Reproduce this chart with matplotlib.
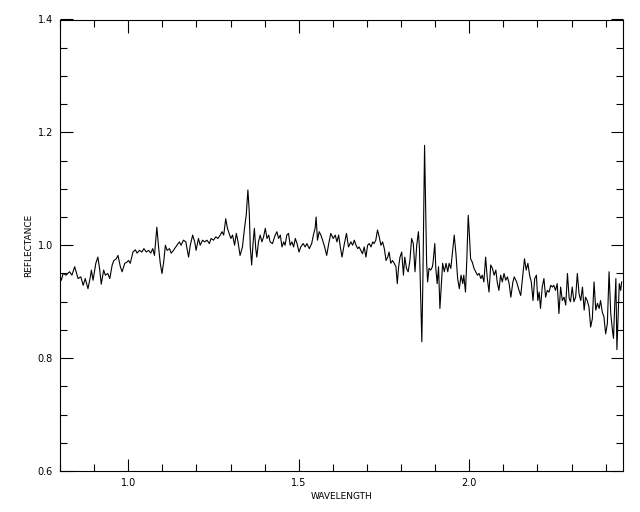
import matplotlib
matplotlib.use("Agg")
import matplotlib.pyplot as plt
from matplotlib.ticker import MultipleLocator, FormatStrFormatter

wavelength = [
    0.800, 0.804, 0.809, 0.818, 0.828, 0.835, 0.843, 0.853, 0.861, 0.868,
    0.874, 0.882, 0.889, 0.892, 0.897, 0.905, 0.911, 0.916, 0.921, 0.928,
    0.933, 0.940, 0.946, 0.953, 0.958, 0.965, 0.970, 0.977, 0.982, 0.990,
    0.996, 1.001, 1.006, 1.014, 1.021, 1.026, 1.033, 1.040, 1.046, 1.053,
    1.060, 1.066, 1.072, 1.077, 1.084, 1.089, 1.094, 1.099, 1.104, 1.109,
    1.114, 1.121, 1.126, 1.133, 1.136, 1.143, 1.150, 1.155, 1.162, 1.169,
    1.177, 1.182, 1.189, 1.195, 1.199, 1.206, 1.211, 1.218, 1.224, 1.231,
    1.238, 1.243, 1.250, 1.257, 1.263, 1.270, 1.275, 1.280, 1.286, 1.291,
    1.296, 1.301, 1.306, 1.312, 1.317, 1.322, 1.328, 1.335, 1.341, 1.346,
    1.351, 1.355, 1.358, 1.362, 1.366, 1.370, 1.374, 1.377, 1.382, 1.387,
    1.392, 1.397, 1.402, 1.407, 1.412, 1.416, 1.423, 1.431, 1.436, 1.441,
    1.446, 1.451, 1.456, 1.460, 1.465, 1.470, 1.475, 1.480, 1.485, 1.490,
    1.495, 1.501, 1.506, 1.513, 1.519, 1.524, 1.531, 1.538, 1.543, 1.548,
    1.551, 1.555, 1.560, 1.565, 1.570, 1.576, 1.582, 1.588, 1.594, 1.601,
    1.607, 1.612, 1.617, 1.622, 1.627, 1.633, 1.640, 1.646, 1.653, 1.658,
    1.663, 1.668, 1.673, 1.677, 1.682, 1.687, 1.692, 1.697, 1.702, 1.707,
    1.712, 1.717, 1.721, 1.726, 1.731, 1.736, 1.741, 1.746, 1.751, 1.756,
    1.761, 1.765, 1.770, 1.775, 1.780, 1.785, 1.789, 1.793, 1.797, 1.802,
    1.807, 1.811, 1.816, 1.821, 1.826, 1.831, 1.836, 1.841, 1.846, 1.851,
    1.854, 1.858, 1.861, 1.864, 1.867, 1.869, 1.872, 1.875, 1.878, 1.882,
    1.887, 1.892, 1.894, 1.899, 1.902, 1.906, 1.910, 1.914, 1.918, 1.922,
    1.927, 1.932, 1.937, 1.941, 1.946, 1.951, 1.956, 1.961, 1.966, 1.971,
    1.976, 1.981, 1.984, 1.989, 1.993, 1.997, 2.000, 2.004, 2.009, 2.014,
    2.019, 2.024, 2.029, 2.034, 2.038, 2.043, 2.048, 2.053, 2.058, 2.063,
    2.068, 2.073, 2.078, 2.082, 2.087, 2.092, 2.097, 2.102, 2.107, 2.112,
    2.117, 2.122, 2.128, 2.132, 2.139, 2.146, 2.151, 2.155, 2.162, 2.167,
    2.172, 2.177, 2.182, 2.187, 2.192, 2.197, 2.201, 2.205, 2.209, 2.214,
    2.219, 2.224, 2.229, 2.234, 2.239, 2.244, 2.248, 2.253, 2.258, 2.263,
    2.268, 2.273, 2.278, 2.283, 2.288, 2.293, 2.297, 2.302, 2.307, 2.312,
    2.317, 2.322, 2.327, 2.332, 2.337, 2.341, 2.346, 2.351, 2.356, 2.361,
    2.366, 2.371, 2.376, 2.381, 2.385, 2.390, 2.395, 2.400, 2.405, 2.410,
    2.415, 2.420, 2.423, 2.427, 2.430, 2.433, 2.437, 2.440, 2.444, 2.447,
]

reflectance = [
    0.944, 0.938, 0.950, 0.947, 0.953, 0.947, 0.962, 0.941, 0.944, 0.929,
    0.941, 0.923, 0.944, 0.956, 0.938, 0.968, 0.979, 0.959, 0.931, 0.956,
    0.947, 0.950, 0.941, 0.965, 0.973, 0.976, 0.982, 0.962, 0.953, 0.968,
    0.970, 0.973, 0.968, 0.988, 0.992, 0.986, 0.991, 0.988, 0.994, 0.988,
    0.991, 0.986, 0.994, 0.982, 1.032, 0.997, 0.968, 0.950, 0.970, 1.000,
    0.991, 0.994, 0.986, 0.991, 0.994, 1.000, 1.006, 1.000, 1.009, 1.006,
    0.979, 1.000, 1.018, 1.006, 0.991, 1.012, 1.000, 1.009, 1.006, 1.009,
    1.003, 1.012, 1.009, 1.015, 1.012, 1.018, 1.024, 1.018, 1.047, 1.030,
    1.021, 1.012, 1.018, 1.000, 1.021, 1.006, 0.982, 0.997, 1.030, 1.053,
    1.098, 1.059, 0.997, 0.965, 1.003, 1.030, 0.994, 0.979, 1.006, 1.018,
    1.006, 1.015, 1.030, 1.012, 1.018, 1.006, 1.003, 1.018, 1.024, 1.012,
    1.018, 0.997, 1.006, 1.000, 1.018, 1.021, 1.000, 1.006, 0.997, 1.012,
    1.003, 0.988, 0.997, 1.003, 0.997, 1.003, 0.994, 1.003, 1.018, 1.030,
    1.050, 1.009, 1.024, 1.018, 1.009, 0.997, 0.982, 1.003, 1.021, 1.012,
    1.018, 1.006, 1.018, 0.997, 0.979, 1.000, 1.021, 0.997, 1.006, 1.000,
    1.009, 1.000, 0.994, 0.997, 0.991, 0.985, 0.997, 0.979, 1.000, 1.003,
    0.997, 1.006, 1.003, 1.009, 1.027, 1.015, 1.000, 1.006, 0.994, 0.973,
    0.979, 0.988, 0.968, 0.973, 0.968, 0.962, 0.932, 0.962, 0.979, 0.988,
    0.947, 0.979, 0.959, 0.953, 0.973, 1.012, 1.003, 0.953, 1.000, 1.024,
    0.994, 0.900, 0.829, 0.935, 1.077, 1.177, 1.077, 0.970, 0.935, 0.959,
    0.956, 0.962, 0.970, 1.003, 0.959, 0.932, 0.962, 0.888, 0.929, 0.968,
    0.953, 0.968, 0.953, 0.968, 0.959, 0.988, 1.018, 0.985, 0.941, 0.923,
    0.947, 0.932, 0.947, 0.917, 0.976, 1.053, 1.024, 0.976, 0.970, 0.959,
    0.953, 0.947, 0.950, 0.941, 0.947, 0.935, 0.979, 0.941, 0.917, 0.965,
    0.959, 0.947, 0.956, 0.935, 0.920, 0.947, 0.935, 0.950, 0.938, 0.944,
    0.932, 0.908, 0.935, 0.944, 0.935, 0.920, 0.911, 0.935, 0.976, 0.956,
    0.968, 0.947, 0.935, 0.902, 0.941, 0.947, 0.902, 0.917, 0.888, 0.926,
    0.941, 0.908, 0.920, 0.917, 0.929, 0.926, 0.929, 0.920, 0.932, 0.879,
    0.926, 0.902, 0.908, 0.894, 0.950, 0.906, 0.900, 0.926, 0.900, 0.908,
    0.950, 0.914, 0.902, 0.926, 0.885, 0.908, 0.902, 0.891, 0.855, 0.870,
    0.935, 0.885, 0.897, 0.888, 0.902, 0.882, 0.873, 0.843, 0.861, 0.953,
    0.879, 0.849, 0.835, 0.900, 0.941, 0.815, 0.879, 0.932, 0.920, 0.935,
]

x_limits = (0.8, 2.45)
y_limits = (0.6, 1.4)
x_label = "WAVELENGTH"
y_label = "REFLECTANCE"

fig = plt.figure(figsize=(6.4, 5.12), dpi=100)
ax = fig.add_axes([60 / 640, 41 / 512, 562.7 / 640, 451.5 / 512])
ax.plot(wavelength, reflectance, color="black", linewidth=0.8)
ax.set_xlim(*x_limits)
ax.set_ylim(*y_limits)

ax.xaxis.set_major_locator(MultipleLocator(0.5))
ax.xaxis.set_minor_locator(MultipleLocator(0.1))
ax.yaxis.set_major_locator(MultipleLocator(0.2))
ax.yaxis.set_minor_locator(MultipleLocator(0.05))
ax.xaxis.set_major_formatter(FormatStrFormatter("%.1f"))
ax.yaxis.set_major_formatter(FormatStrFormatter("%.1f"))

ax.tick_params(which="both", direction="in", top=True, right=True,
               labelsize=7, width=0.8, color="black", pad=5)
ax.tick_params(which="major", length=9)
ax.tick_params(which="minor", length=5)
for s in ax.spines.values():
    s.set_linewidth(0.8)

ax.set_xlabel(x_label, fontsize=6.5, labelpad=3)
ax.set_ylabel(y_label, fontsize=6.5, labelpad=3)

fig.savefig("out.png", dpi=100, facecolor="white")
